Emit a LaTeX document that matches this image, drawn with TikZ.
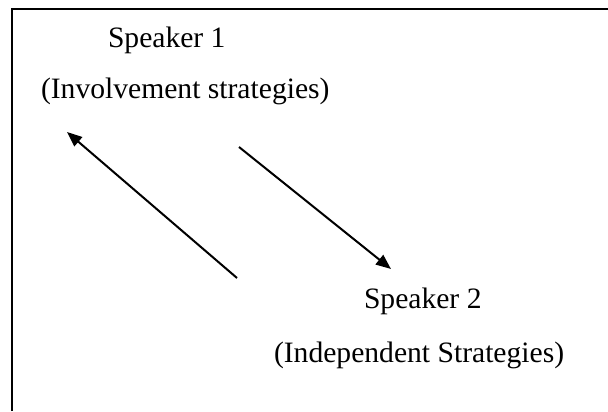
\documentclass[tikz,border=0pt]{standalone}
\usepackage{fontspec}
\setmainfont{Liberation Serif}
\usetikzlibrary{arrows.meta}

\begin{document}
\begin{tikzpicture}[x=0.5pt,y=-0.5pt,line width=1pt,
  every node/.style={inner sep=0pt,anchor=base west,font=\fontsize{14.8}{18}\selectfont},
  link/.style={-{Triangle[length=7.5pt,width=6pt]}}]
  \useasboundingbox (0,0) rectangle (608,411);
  \path (107,48) node (s1) {Speaker 1} (40,99) node (s1s) {(Involvement strategies)}
  (363,308) node (s2) {Speaker 2} (273,362) node (s2s) {(Independent Strategies)};
  \coordinate (a1) at (237,278); \coordinate (b1) at (67,132);
  \coordinate (a2) at (239,147); \coordinate (b2) at (391,269);
  \draw[link] (a1) -- (b1);
  \draw[link] (a2) -- (b2);
  \draw (12,411) -- (12,9) -- (608,9);
  \end{tikzpicture}
\end{document}
